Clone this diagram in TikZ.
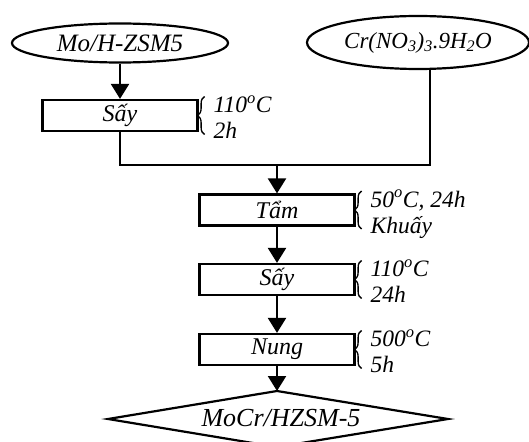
\documentclass[tikz,border=0pt]{standalone}
\usepackage{fontspec}
\setmainfont{Liberation Serif}
\usetikzlibrary{shapes.geometric,arrows.meta,decorations.pathreplacing,calc}
\begin{document}
\begin{tikzpicture}[x=1pt,y=-1pt,
  line width=2.2pt,
  txt/.style={font=\fontsize{24}{27}\selectfont\itshape},
  lbl/.style={font=\fontsize{23.5}{26}\selectfont\itshape, anchor=base west, inner sep=0pt},
  oval/.style={draw, ellipse, inner sep=0pt},
  stepbox/.style={draw, rectangle, minimum width=155pt, minimum height=31pt, inner sep=0pt, txt},
  arr/.style={-{Triangle[width=18pt,length=15pt]}},
  brc/.style={decorate, decoration={brace, amplitude=7pt}, line width=1.3pt}
]
\useasboundingbox (0,0) rectangle (529,441);

\node[oval, minimum width=216pt, minimum height=39pt, font=\fontsize{25}{28}\selectfont\itshape] (e1) at (120,43) {Mo/H-ZSM5};
\node[oval, minimum width=222pt, minimum height=53pt, font=\fontsize{23}{26}\selectfont\itshape] (e2) at (418,42.5) {Cr(NO\textsubscript{3})\textsubscript{3}.9H\textsubscript{2}O};

\node[stepbox] (s1) at (120,115.5) {Sấy};
\node[stepbox] (t)  at (277,210) {Tẩm};
\node[stepbox] (s2) at (277,279.5) {Sấy};
\node[stepbox] (n)  at (277,349.5) {Nung};

% diamond
\coordinate (dtop) at (277,391);
\draw (dtop) -- (448,419) -- (277,447) -- (108,419) -- cycle;
\node[font=\fontsize{26}{29}\selectfont\itshape] (res) at (281,418) {MoCr/HZSM-5};

% connectors
\coordinate (j) at (277,165);
\coordinate (e2b) at (430,68);
\draw[arr] (e1.south) -- (s1.north);
\draw (s1.south) |- (j);
\draw (e2b) |- (j);
\draw[arr] (j) -- (t.north);
\draw[arr] (t.south) -- (s2.north);
\draw[arr] (s2.south) -- (n.north);
\draw[arr] (n.south) -- (dtop);

% braces and labels
\foreach \b/\la/\lb in {s1/{110\textsuperscript{o}C}/{2h}, t/{50\textsuperscript{o}C, 24h}/{Khuấy}, s2/{110\textsuperscript{o}C}/{24h}, n/{500\textsuperscript{o}C}/{5h}}{
  \draw[brc] ($(\b.east)+(6,19)$) -- ($(\b.east)+(6,-19)$);
  \node[lbl] (\b la) at ($(\b.east)+(14,-3)$) {\la};
  \node[lbl] (\b lb) at ($(\b.east)+(14,23)$) {\lb};
}
\end{tikzpicture}
\end{document}
